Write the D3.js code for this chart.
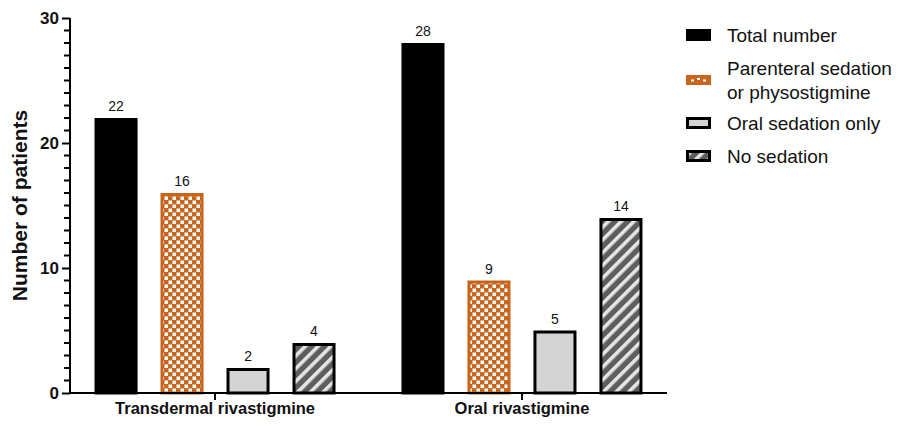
<!DOCTYPE html>
<html><head><meta charset="utf-8">
<script src="https://cdn.jsdelivr.net/npm/d3@7"></script>
<style>body{margin:0;background:#fff}svg{display:block;font-family:Arial,"Liberation Sans",sans-serif}</style>
</head><body><svg id="c" width="904" height="429"></svg>
<script>
const groups = ["Transdermal rivastigmine", "Oral rivastigmine"];
const seriesNames = ["Total number", "Parenteral sedation\nor physostigmine", "Oral sedation only", "No sedation"];
const totalNumber = [22, 28];
const parenteral = [16, 9];
const oralOnly = [2, 5];
const noSedation = [4, 14];
const yTicks = [0, 10, 20, 30];
const seriesValues = [totalNumber, parenteral, oralOnly, noSedation];

const svg = d3.select("#c");
const defs = svg.append("defs");
const orange = "#c7651c";
// checker pattern
const chk = defs.append("pattern").attr("id","chk").attr("patternUnits","userSpaceOnUse")
  .attr("width",8).attr("height",8);
chk.append("rect").attr("width",8).attr("height",8).attr("fill",orange);
chk.append("rect").attr("x",0.5).attr("y",0.5).attr("width",3.6).attr("height",3.6).attr("fill","#fff");
chk.append("rect").attr("x",4.5).attr("y",4.5).attr("width",3.6).attr("height",3.6).attr("fill","#fff");
// hatch pattern
const hat = defs.append("pattern").attr("id","hat").attr("patternUnits","userSpaceOnUse")
  .attr("width",9).attr("height",9).attr("patternTransform","rotate(45)");
hat.append("rect").attr("width",9).attr("height",9).attr("fill","#5e5e5e");
hat.append("rect").attr("x",0).attr("width",3.6).attr("height",9).attr("fill","#e6e6e6");

const styles = [
  {fill:"#000", stroke:"#000"},
  {fill:"url(#chk)", stroke:orange},
  {fill:"#d4d4d4", stroke:"#000"},
  {fill:"url(#hat)", stroke:"#000"}
];

const x0 = d3.scaleBand().domain(groups).range([70,667]).paddingInner(0.14).paddingOuter(0.0425);
const x1 = d3.scaleBand().domain(d3.range(4)).range([0,x0.bandwidth()]).paddingInner(0.348).paddingOuter(0.174);
const y = d3.scaleLinear().domain([0,30]).range([393,18]);

// bars
groups.forEach((g,gi)=>{
  seriesValues.forEach((vals,si)=>{
    const st = styles[si];
    const bx = x0(g)+x1(si), bw = x1.bandwidth();
    const top = y(vals[gi]), h = y(0)-top;
    svg.append("rect").attr("x",bx+1.5).attr("y",top+1.5).attr("width",bw-3).attr("height",h-1.5)
      .attr("fill",st.fill).attr("stroke",st.stroke).attr("stroke-width",3);
    svg.append("text").attr("x",bx+bw/2).attr("y",top-7).attr("text-anchor","middle")
      .attr("font-size",14).attr("fill","#111").text(vals[gi]);
  });
});

// minor ticks
const minorTicks = d3.range(1,30).filter(v=>v%10!==0);
svg.append("g").attr("class","minor").selectAll("path").data(minorTicks).join("path")
  .attr("d",d=>`M64,${y(d)}H70`).attr("stroke","#000").attr("stroke-width",2).attr("fill","none");

// y axis
const yAxis = svg.append("g").attr("transform","translate(70,0)")
  .call(d3.axisLeft(y).tickValues(yTicks).tickSize(8).tickPadding(3).tickFormat(d3.format("d")));
yAxis.select(".domain").attr("stroke-width",2).attr("d","M0,"+y(30)+"V"+y(0));
yAxis.selectAll(".tick line").attr("stroke-width",2);
yAxis.selectAll(".tick text").attr("font-size",17).attr("font-weight","bold").attr("fill","#111");

// x axis
const xAxis = svg.append("g").attr("transform","translate(0,"+y(0)+")")
  .call(d3.axisBottom(x0).tickSize(7).tickPadding(5));
xAxis.select(".domain").attr("stroke-width",2).attr("d","M69,0H667");
xAxis.selectAll(".tick line").attr("stroke-width",2);
xAxis.selectAll(".tick text").attr("font-size",16.5).attr("font-weight","bold").attr("fill","#111").attr("dy","0.55em");

// y title
svg.append("text").attr("transform","translate(27,"+y(15)+") rotate(-90)").attr("text-anchor","middle")
  .attr("font-size",21).attr("font-weight","bold").attr("fill","#111").text("Number of patients");

// legend
const legY = [35, 80, 123, 156];
seriesNames.forEach((name,i)=>{
  const st = styles[i];
  const cy = legY[i];
  if(i===0){
    svg.append("rect").attr("x",686).attr("y",cy-6).attr("width",25).attr("height",12).attr("fill","#000");
  } else if(i===1){
    svg.append("rect").attr("x",686).attr("y",cy-5).attr("width",25).attr("height",10).attr("fill",orange);
    svg.append("path").attr("d",`M691,${cy+0.5}h3M697,${cy-1}h3M703,${cy+0.5}h3`).attr("stroke","#fff").attr("stroke-width",2);
  } else {
    svg.append("rect").attr("x",687.5).attr("y",cy-4.5).attr("width",22).attr("height",9)
      .attr("fill",st.fill).attr("stroke","#000").attr("stroke-width",3);
  }
  const lines = name.split("\n");
  const t = svg.append("text").attr("x",727).attr("font-size",19).attr("fill","#111");
  const startY = cy - (lines.length-1)*24/2;
  lines.forEach((ln,li)=>{
    t.append("tspan").attr("x",727).attr("y",startY+li*24).attr("dy","0.36em").text(ln);
  });
});
</script></body></html>
